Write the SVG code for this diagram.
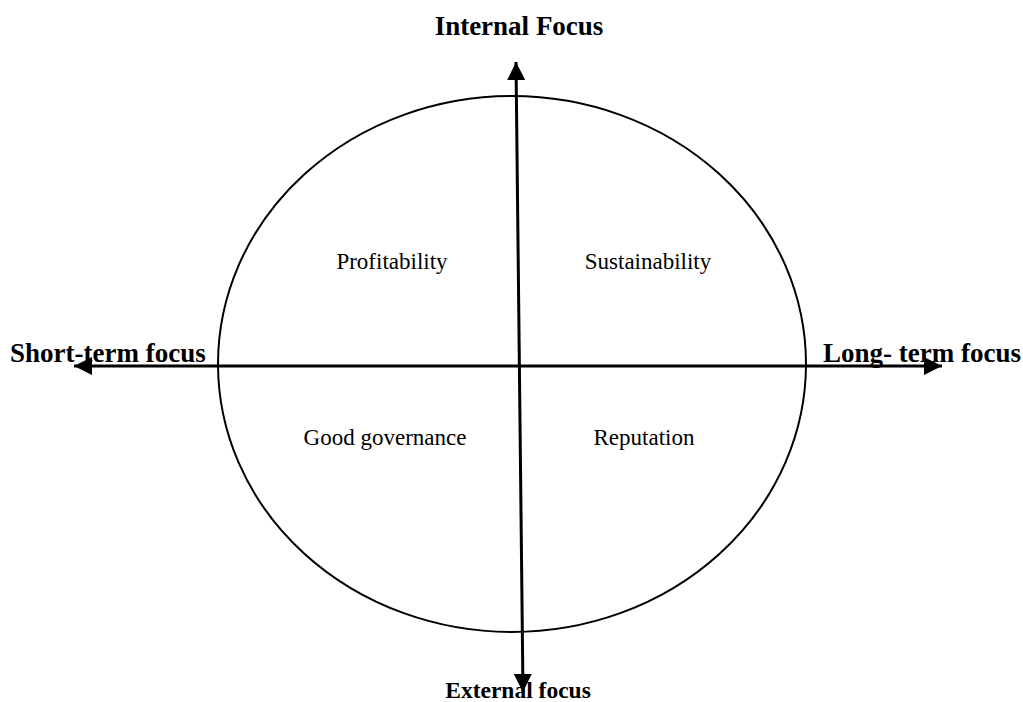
<svg xmlns="http://www.w3.org/2000/svg" width="1023" height="702" viewBox="0 0 1023 702">
  <style>
    .axis { stroke: #000; stroke-width: 3; fill: none; }
    .title { font-family: "Liberation Serif", serif; font-weight: bold; fill: #000; }
    .quad { font-family: "Liberation Serif", serif; font-size: 23px; fill: #000; text-anchor: middle; }
  </style>
  <defs>
    <marker id="arrow" viewBox="0 0 10 10" refX="10" refY="5" markerWidth="6" markerHeight="6" markerUnits="strokeWidth" orient="auto-start-reverse">
      <path d="M0,0 L10,5 L0,10 Z" fill="#000"/>
    </marker>
  </defs>
  <rect width="1023" height="702" fill="#fff"/>

  <g id="circle">
    <ellipse cx="512" cy="364" rx="294" ry="268" fill="none" stroke="#000" stroke-width="2"/>
  </g>

  <g id="connectors">
    <line class="axis" x1="74" y1="366" x2="942" y2="366" marker-start="url(#arrow)" marker-end="url(#arrow)"/>
    <line class="axis" x1="516" y1="62" x2="523" y2="692" marker-start="url(#arrow)" marker-end="url(#arrow)"/>
  </g>

  <g id="internal-focus"><text class="title" x="519" y="35" font-size="27" text-anchor="middle">Internal Focus</text></g>
  <g id="external-focus"><text class="title" x="518" y="698" font-size="23.5" text-anchor="middle">External focus</text></g>
  <g id="short-term-focus"><text class="title" x="10" y="362" font-size="27">Short-term focus</text></g>
  <g id="long-term-focus"><text class="title" x="1021" y="362" font-size="27" text-anchor="end">Long- term focus</text></g>

  <g id="profitability"><text class="quad" x="392" y="269">Profitability</text></g>
  <g id="sustainability"><text class="quad" x="648" y="269">Sustainability</text></g>
  <g id="good-governance"><text class="quad" x="385" y="445">Good governance</text></g>
  <g id="reputation"><text class="quad" x="644" y="445">Reputation</text></g>
</svg>
